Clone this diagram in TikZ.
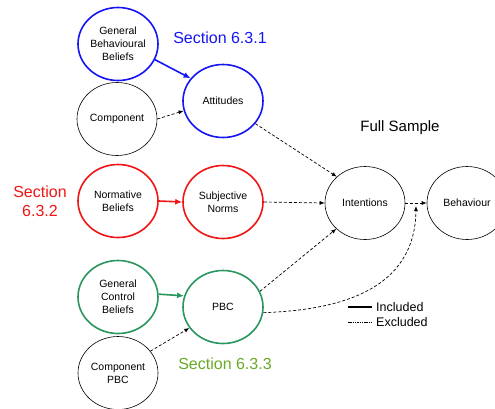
\documentclass[tikz,border=0pt]{standalone}
\usepackage{fontspec}
\setmainfont{Liberation Sans}
\usetikzlibrary{shapes.geometric,arrows.meta,calc}
\definecolor{secblue}{RGB}{20,20,245}
\definecolor{secred}{RGB}{240,20,20}
\definecolor{secgreen}{RGB}{40,150,95}
\definecolor{labgreen}{RGB}{105,170,40}
\tikzset{
  construct/.style={ellipse, draw, inner sep=0pt, minimum width=80pt, minimum height=73pt,
    align=center, font=\fontsize{10.5}{13}\selectfont},
  plain/.style={construct, line width=0.6pt},
  bluec/.style={construct, draw=secblue, line width=1.6pt},
  redc/.style={construct, draw=secred, line width=1.6pt},
  greenc/.style={construct, draw=secgreen, line width=1.6pt},
  excluded/.style={-{Latex[length=5pt,width=4pt]}, line width=0.7pt, dash pattern=on 3pt off 2pt},
  included/.style={-{Latex[length=7pt,width=6pt]}, line width=1.6pt},
  seclabel/.style={font=\fontsize{16}{19}\selectfont, align=center}
}
\begin{document}
\begin{tikzpicture}[x=1pt,y=-1pt]
\useasboundingbox (0,0) rectangle (495,408);

% constructs
\node[bluec]  (gbb)  at (118,44)  {General\\Behavioural\\Beliefs};
\node[bluec]  (att)  at (223,101) {Attitudes};
\node[plain]  (comp) at (117,119) {Component};
\node[redc]   (nb)   at (118,201) {Normative\\Beliefs};
\node[redc]   (sn)   at (223,202) {Subjective\\Norms};
\node[greenc] (gcb)  at (118,297) {General\\Control\\Beliefs};
\node[greenc] (pbc)  at (223,307) {PBC};
\node[plain]  (cpbc) at (118,373) {Component\\PBC};
\node[plain]  (int)  at (365,203) {Intentions};
\node[plain]  (beh)  at (467,203) {Behaviour};

% section labels
\node[seclabel, text=secblue]  (s1) at (220,38)  {Section 6.3.1};
\node[seclabel, text=secred]   (s2) at (40,201)  {Section\\6.3.2};
\node[seclabel, text=labgreen] (s3) at (225,364) {Section 6.3.3};
\node[font=\fontsize{15}{18}\selectfont] (fs) at (400,128) {Full Sample};

% included paths
\draw[included, secblue]  (gbb.-23) -- (att.145);
\draw[included, secred]   (nb.east) -- (sn.west);
\draw[included, secgreen] (gcb.4)   -- (pbc.164);

% excluded paths
\draw[excluded] (comp.east) -- (att.194);
\draw[excluded] (att.-35)   -- (int.137);
\draw[excluded] (sn.east)   -- (int.west);
\draw[excluded] (cpbc.34)   -- (pbc.212);
\draw[excluded] (pbc.23)    -- (int.222);
\draw[excluded] (int.east)  -- (beh.west);
\coordinate (meet) at ($(int.east)!0.5!(beh.west)+(0,3)$);
\draw[excluded] (pbc.-8) .. controls (340,310) and (415,290) .. (meet);

% legend
\coordinate (l1a) at (348,307);
\coordinate (l1b) at (372,307);
\coordinate (l2a) at (348,322);
\coordinate (l2b) at (372,322);
\draw[line width=1.6pt] (l1a) -- (l1b);
\draw[line width=0.5pt, dash pattern=on 1.5pt off 0.8pt] (l2a) -- (l2b);
\node[anchor=west, font=\fontsize{12.5}{15}\selectfont, inner sep=0pt] (li) at (376,307) {Included};
\node[anchor=west, font=\fontsize{12.5}{15}\selectfont, inner sep=0pt] (le) at (376,322) {Excluded};
\end{tikzpicture}
\end{document}
